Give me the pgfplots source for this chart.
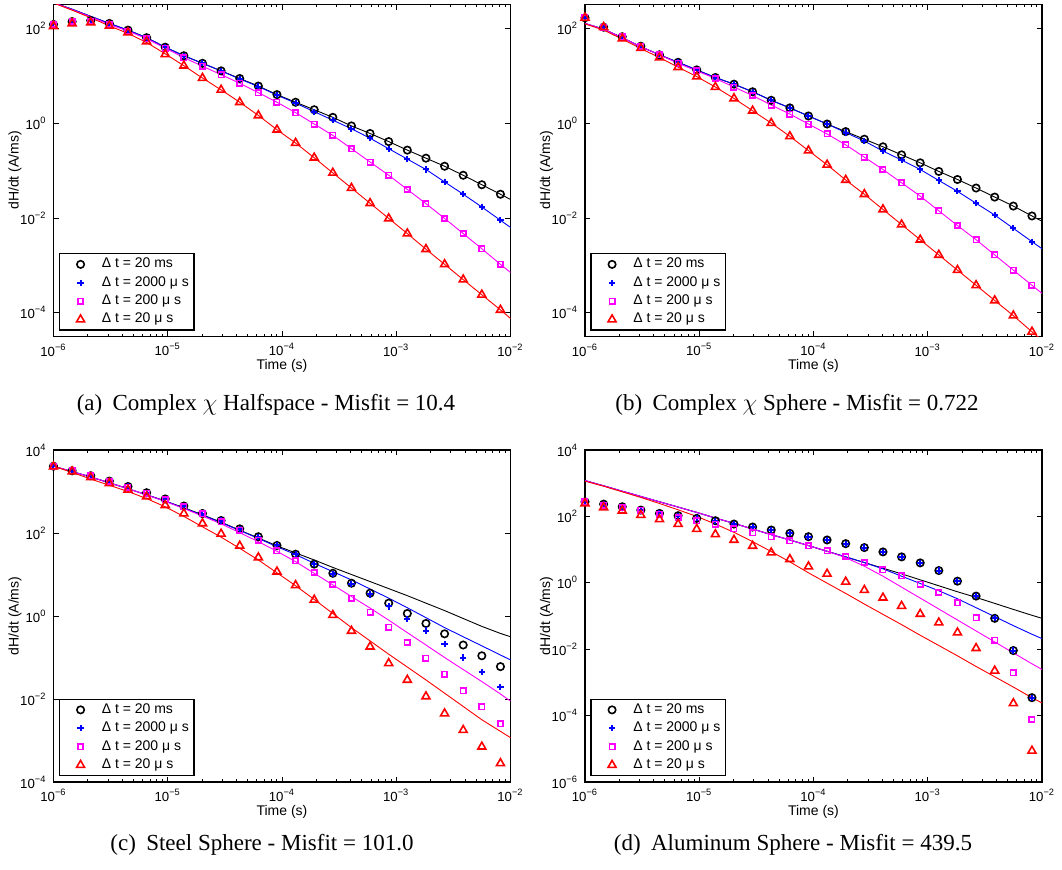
\documentclass[border=0pt]{standalone}
\usepackage{fontspec}
\setmainfont{Liberation Sans}
\newfontfamily\capfont{Liberation Serif}
\usepackage{pgfplots}
\usepackage{pgfplotstable}
\pgfplotsset{compat=1.18}
\definecolor{mmag}{rgb}{1,0,1}
\definecolor{mblue}{rgb}{0,0,1}
\definecolor{mred}{rgb}{1,0,0}

% ---------------- Panel (a) ----------------
\pgfplotstableread{
t k b m r
1e-6 1.20e2 1.20e2 1.20e2 1.10e2
1.456e-6 1.38e2 1.38e2 1.38e2 1.26e2
2.118e-6 1.45e2 1.45e2 1.38e2 1.32e2
3.083e-6 1.26e2 1.26e2 1.20e2 1.12e2
4.487e-6 9.12e1 9.12e1 8.71e1 8.13e1
6.531e-6 6.31e1 6.31e1 6.03e1 5.25e1
9.506e-6 3.98e1 3.98e1 3.80e1 2.82e1
1.384e-5 2.63e1 2.63e1 2.40e1 1.62e1
2.014e-5 1.82e1 1.82e1 1.58e1 8.91
2.931e-5 1.26e1 1.26e1 1.05e1 5.01
4.266e-5 8.71 8.51 6.92 2.75
6.209e-5 6.03 5.89 4.37 1.45
9.036e-5 3.98 3.89 2.75 7.24e-1
1.315e-4 2.75 2.63 1.66 3.80e-1
1.914e-4 1.91 1.74 9.55e-1 1.86e-1
2.786e-4 1.32 1.15 5.50e-1 8.91e-2
4.055e-4 8.71e-1 7.59e-1 2.88e-1 4.27e-2
5.902e-4 6.03e-1 4.79e-1 1.51e-1 2.04e-2
8.590e-4 4.07e-1 2.88e-1 7.94e-2 9.77e-3
1.250e-3 2.69e-1 1.74e-1 3.98e-2 4.68e-3
1.820e-3 1.82e-1 1.05e-1 2.00e-2 2.19e-3
2.649e-3 1.23e-1 5.75e-2 9.77e-3 1.05e-3
3.855e-3 7.94e-2 3.16e-2 4.68e-3 5.01e-4
5.610e-3 5.01e-2 1.70e-2 2.24e-3 2.40e-4
8.166e-3 3.16e-2 8.91e-3 1.05e-3 1.15e-4
}\markA
\pgfplotstableread{
t k b m r
1e-6 3.47e2 3.47e2 3.47e2 3.39e2
1.456e-6 2.51e2 2.51e2 2.45e2 2.40e2
2.118e-6 1.78e2 1.78e2 1.74e2 1.66e2
3.083e-6 1.26e2 1.26e2 1.20e2 1.12e2
4.487e-6 9.12e1 9.12e1 8.71e1 7.76e1
6.531e-6 6.31e1 6.31e1 6.03e1 5.01e1
9.506e-6 3.98e1 3.98e1 3.80e1 2.88e1
1.384e-5 2.63e1 2.63e1 2.40e1 1.62e1
2.014e-5 1.82e1 1.82e1 1.58e1 8.91
2.931e-5 1.26e1 1.26e1 1.05e1 5.01
4.266e-5 8.71 8.51 6.92 2.75
6.209e-5 6.03 5.89 4.37 1.45
9.036e-5 3.98 3.89 2.75 7.24e-1
1.315e-4 2.75 2.63 1.66 3.80e-1
1.914e-4 1.91 1.74 9.55e-1 1.86e-1
2.786e-4 1.32 1.15 5.50e-1 8.91e-2
4.055e-4 8.71e-1 7.59e-1 2.88e-1 4.27e-2
5.902e-4 6.03e-1 4.79e-1 1.51e-1 2.04e-2
8.590e-4 4.07e-1 2.88e-1 7.94e-2 9.77e-3
1.250e-3 2.69e-1 1.74e-1 3.98e-2 4.68e-3
1.820e-3 1.82e-1 1.05e-1 2.00e-2 2.19e-3
2.649e-3 1.23e-1 5.75e-2 9.77e-3 1.05e-3
3.855e-3 7.94e-2 3.16e-2 4.68e-3 5.01e-4
5.610e-3 5.01e-2 1.70e-2 2.24e-3 2.40e-4
8.166e-3 3.16e-2 8.91e-3 1.05e-3 1.15e-4
1e-2 2.45e-2 6.31e-3 7.08e-4 7.59e-5
}\lineA

% ---------------- Panel (b) ----------------
\pgfplotstableread{
t k b m r
1e-6 1.66e2 1.66e2 1.66e2 1.66e2
1.456e-6 1.05e2 1.05e2 1.05e2 1.05e2
2.118e-6 6.61e1 6.61e1 6.61e1 6.03e1
3.083e-6 4.17e1 4.17e1 4.17e1 3.80e1
4.487e-6 2.75e1 2.75e1 2.75e1 2.40e1
6.531e-6 1.91e1 1.91e1 1.82e1 1.51e1
9.506e-6 1.32e1 1.32e1 1.26e1 9.55
1.384e-5 9.12 9.12 8.71 5.75
2.014e-5 6.61 6.61 5.75 3.31
2.931e-5 4.57 4.57 3.80 1.82
4.266e-5 3.02 3.02 2.40 1.00
6.209e-5 2.09 2.09 1.55 5.25e-1
9.036e-5 1.41 1.41 9.55e-1 2.63e-1
1.315e-4 9.55e-1 9.55e-1 5.89e-1 1.32e-1
1.914e-4 6.61e-1 6.31e-1 3.47e-1 6.31e-2
2.786e-4 4.57e-1 4.17e-1 1.91e-1 3.16e-2
4.055e-4 3.16e-1 2.57e-1 1.05e-1 1.51e-2
5.902e-4 2.14e-1 1.66e-1 5.50e-2 7.24e-3
8.590e-4 1.45e-1 1.05e-1 2.88e-2 3.47e-3
1.250e-3 9.55e-2 6.17e-2 1.41e-2 1.66e-3
1.820e-3 6.46e-2 3.63e-2 6.92e-3 7.94e-4
2.649e-3 4.27e-2 2.04e-2 3.47e-3 3.80e-4
3.855e-3 2.75e-2 1.15e-2 1.66e-3 1.82e-4
5.610e-3 1.78e-2 6.03e-3 7.94e-4 8.71e-5
8.166e-3 1.10e-2 3.16e-3 3.80e-4 3.98e-5
}\markB
\pgfplotstableread{
t k b m r
1e-6 1.26e2 1.26e2 1.26e2 1.23e2
1.456e-6 9.55e1 9.55e1 9.55e1 9.12e1
2.118e-6 6.31e1 6.31e1 6.31e1 5.89e1
3.083e-6 4.07e1 4.07e1 4.07e1 3.72e1
4.487e-6 2.75e1 2.75e1 2.75e1 2.40e1
6.531e-6 1.91e1 1.91e1 1.82e1 1.51e1
9.506e-6 1.32e1 1.32e1 1.26e1 9.55
1.384e-5 9.12 9.12 8.71 5.75
2.014e-5 6.61 6.61 5.75 3.31
2.931e-5 4.57 4.57 3.80 1.82
4.266e-5 3.02 3.02 2.40 1.00
6.209e-5 2.09 2.09 1.55 5.25e-1
9.036e-5 1.41 1.41 9.55e-1 2.63e-1
1.315e-4 9.55e-1 9.55e-1 5.89e-1 1.32e-1
1.914e-4 6.61e-1 6.31e-1 3.47e-1 6.31e-2
2.786e-4 4.57e-1 4.17e-1 1.91e-1 3.16e-2
4.055e-4 3.16e-1 2.57e-1 1.05e-1 1.51e-2
5.902e-4 2.14e-1 1.66e-1 5.50e-2 7.24e-3
8.590e-4 1.45e-1 1.05e-1 2.88e-2 3.47e-3
1.250e-3 9.55e-2 6.17e-2 1.41e-2 1.66e-3
1.820e-3 6.46e-2 3.63e-2 6.92e-3 7.94e-4
2.649e-3 4.27e-2 2.04e-2 3.47e-3 3.80e-4
3.855e-3 2.75e-2 1.15e-2 1.66e-3 1.82e-4
5.610e-3 1.78e-2 6.03e-3 7.94e-4 8.71e-5
8.166e-3 1.10e-2 3.16e-3 3.80e-4 3.98e-5
1e-2 8.51e-3 2.24e-3 2.57e-4 2.63e-5
}\lineB

% ---------------- Panel (c) ----------------
\pgfplotstableread{
t k b m r
1e-6 4.07e3 4.07e3 4.07e3 3.98e3
1.456e-6 3.16e3 3.16e3 3.16e3 3.02e3
2.118e-6 2.40e3 2.40e3 2.40e3 2.19e3
3.083e-6 1.78e3 1.78e3 1.74e3 1.58e3
4.487e-6 1.32e3 1.32e3 1.26e3 1.10e3
6.531e-6 9.33e2 9.33e2 9.12e2 7.59e2
9.506e-6 6.61e2 6.61e2 6.31e2 4.68e2
1.384e-5 4.47e2 4.47e2 4.27e2 2.95e2
2.014e-5 2.95e2 2.95e2 2.88e2 1.70e2
2.931e-5 2.00e2 2.00e2 1.86e2 9.55e1
4.266e-5 1.26e2 1.26e2 1.17e2 4.90e1
6.209e-5 8.13e1 8.13e1 6.76e1 2.57e1
9.036e-5 5.01e1 5.01e1 3.72e1 1.17e1
1.315e-4 3.09e1 3.09e1 2.14e1 5.50
1.914e-4 1.78e1 1.78e1 1.12e1 2.45
2.786e-4 1.07e1 1.05e1 5.75 1.05
4.055e-4 6.17 5.89 2.69 4.37e-1
5.902e-4 3.55 3.31 1.23 1.82e-1
8.590e-4 2.04 1.70 5.37e-1 7.24e-2
1.250e-3 1.15 8.51e-1 2.29e-1 2.88e-2
1.820e-3 6.61e-1 4.47e-1 9.55e-2 1.15e-2
2.649e-3 3.72e-1 2.14e-1 3.98e-2 4.47e-3
3.855e-3 2.00e-1 1.00e-1 1.58e-2 1.78e-3
5.610e-3 1.10e-1 4.47e-2 6.46e-3 7.08e-4
8.166e-3 6.03e-2 1.95e-2 2.51e-3 2.82e-4
}\markC
\pgfplotstableread{
t k b m r
1e-6 4.07e3 4.07e3 4.07e3 4.07e3
1.456e-6 3.02e3 3.02e3 3.02e3 2.88e3
2.118e-6 2.24e3 2.24e3 2.24e3 2.00e3
3.083e-6 1.62e3 1.62e3 1.62e3 1.41e3
4.487e-6 1.17e3 1.17e3 1.17e3 1.00e3
6.531e-6 8.32e2 8.32e2 8.32e2 6.76e2
9.506e-6 5.89e2 5.89e2 5.75e2 4.27e2
1.384e-5 4.07e2 3.98e2 3.89e2 2.51e2
2.014e-5 2.75e2 2.69e2 2.57e2 1.41e2
2.931e-5 1.82e2 1.78e2 1.66e2 7.94e1
4.266e-5 1.17e2 1.15e2 1.02e2 4.27e1
6.209e-5 7.59e1 7.41e1 6.17e1 2.24e1
9.036e-5 4.90e1 4.68e1 3.63e1 1.10e1
1.315e-4 3.31e1 3.02e1 2.04e1 5.37
1.914e-4 2.24e1 1.86e1 1.07e1 2.51
2.786e-4 1.48e1 1.17e1 5.62 1.15
4.055e-4 1.00e1 7.41 2.95 5.25e-1
5.902e-4 6.76 4.47 1.55 2.51e-1
8.590e-4 4.57 2.69 7.94e-1 1.20e-1
1.250e-3 3.09 1.58 3.98e-1 5.89e-2
1.820e-3 2.04 9.12e-1 2.00e-1 2.88e-2
2.649e-3 1.35 5.25e-1 1.00e-1 1.38e-2
3.855e-3 8.71e-1 3.16e-1 5.13e-2 6.61e-3
5.610e-3 5.62e-1 1.91e-1 2.63e-2 3.16e-3
8.166e-3 3.80e-1 1.15e-1 1.32e-2 1.66e-3
1e-2 3.16e-1 8.71e-2 8.91e-3 1.17e-3
}\lineC

% ---------------- Panel (d) ----------------
\pgfplotstableread{
t k b m r
1e-6 2.75e2 2.75e2 2.75e2 2.45e2
1.456e-6 2.34e2 2.34e2 2.19e2 1.86e2
2.118e-6 1.95e2 1.95e2 1.82e2 1.48e2
3.083e-6 1.55e2 1.55e2 1.55e2 1.10e2
4.487e-6 1.23e2 1.23e2 1.17e2 8.13e1
6.531e-6 1.05e2 1.05e2 9.33e1 5.89e1
9.506e-6 8.71e1 8.71e1 7.41e1 4.17e1
1.384e-5 7.41e1 7.41e1 5.75e1 2.88e1
2.014e-5 5.89e1 5.89e1 4.27e1 1.95e1
2.931e-5 4.79e1 4.79e1 3.24e1 1.29e1
4.266e-5 3.89e1 3.89e1 2.45e1 8.13
6.209e-5 3.09e1 3.09e1 1.82e1 5.13
9.036e-5 2.45e1 2.45e1 1.29e1 3.09
1.315e-4 1.95e1 1.95e1 9.12 1.86
1.914e-4 1.51e1 1.51e1 6.17 1.07
2.786e-4 1.15e1 1.15e1 4.07 6.03e-1
4.055e-4 8.51 8.51 2.45 3.55e-1
5.902e-4 6.03 6.03 1.62 2.00e-1
8.590e-4 3.98 3.98 9.12e-1 1.15e-1
1.250e-3 2.34 2.34 5.13e-1 6.31e-2
1.820e-3 1.12 1.12 2.51e-1 3.16e-2
2.649e-3 3.98e-1 3.98e-1 8.71e-2 1.07e-2
3.855e-3 8.51e-2 8.51e-2 1.86e-2 2.24e-3
5.610e-3 9.12e-3 9.12e-3 1.95e-3 2.34e-4
8.166e-3 3.47e-4 3.47e-4 7.59e-5 8.71e-6
}\markD
\pgfplotstableread{
t k b m r
1e-6 1.20e3 1.20e3 1.20e3 1.15e3
1.456e-6 8.32e2 8.32e2 8.32e2 8.13e2
2.118e-6 5.75e2 5.75e2 5.75e2 5.50e2
3.083e-6 3.98e2 3.98e2 3.98e2 3.72e2
4.487e-6 2.75e2 2.75e2 2.75e2 2.45e2
6.531e-6 1.91e2 1.91e2 1.91e2 1.58e2
9.506e-6 1.32e2 1.32e2 1.32e2 1.00e2
1.384e-5 8.91e1 8.91e1 8.91e1 5.89e1
2.014e-5 6.17e1 6.17e1 6.17e1 3.31e1
2.931e-5 4.17e1 4.17e1 4.17e1 1.74e1
4.266e-5 2.82e1 2.82e1 2.82e1 8.71
6.209e-5 1.95e1 1.95e1 1.95e1 4.27
9.036e-5 1.32e1 1.32e1 1.32e1 2.00
1.315e-4 8.91 8.91 8.91 9.77e-1
1.914e-4 6.03 6.03 5.75 4.79e-1
2.786e-4 4.07 4.07 3.16 2.29e-1
4.055e-4 2.75 2.63 1.58 1.12e-1
5.902e-4 1.86 1.58 7.41e-1 5.50e-2
8.590e-4 1.23 9.55e-1 3.47e-1 2.63e-2
1.250e-3 8.13e-1 5.75e-1 1.62e-1 1.29e-2
1.820e-3 5.37e-1 3.31e-1 7.59e-2 6.31e-3
2.649e-3 3.63e-1 1.78e-1 3.55e-2 3.02e-3
3.855e-3 2.40e-1 9.55e-2 1.66e-2 1.48e-3
5.610e-3 1.58e-1 5.13e-2 7.76e-3 7.24e-4
8.166e-3 1.05e-1 2.82e-2 3.63e-3 3.47e-4
1e-2 8.51e-2 2.09e-2 2.45e-3 2.40e-4
}\lineD

\newcommand{\tl}[1]{10\textsuperscript{#1}}

\pgfplotsset{
  panel/.style={
    scale only axis, width=228.5pt, height=166pt, anchor=south west,
    xmin=1e-6, xmax=1e-2,
    xtick={1e-6,1e-5,1e-4,1e-3,1e-2},
    xticklabels={\tl{−6},\tl{−5},\tl{−4},\tl{−3},\tl{−2}},
    minor xtick={2e-6,3e-6,4e-6,5e-6,6e-6,7e-6,8e-6,9e-6,
                 2e-5,3e-5,4e-5,5e-5,6e-5,7e-5,8e-5,9e-5,
                 2e-4,3e-4,4e-4,5e-4,6e-4,7e-4,8e-4,9e-4,
                 2e-3,3e-3,4e-3,5e-3,6e-3,7e-3,8e-3,9e-3},
    yminorticks=false,
    tick align=inside, tick pos=both,
    major tick length=2.6pt, minor tick length=1.5pt,
    every tick/.style={black, line width=0.4pt},
    axis line style={line width=0.55pt},
    ticklabel style={font=\fontsize{6.6}{7}\selectfont},
    xlabel={Time (s)}, ylabel={dH/dt (A/ms)},
    every axis x label/.style={at={(axis description cs:0.5,-0.0887)}, anchor=center, font=\fontsize{7}{8}\selectfont},
    every axis y label/.style={at={(axis description cs:-0.0842,0.5)}, anchor=center, rotate=90, font=\fontsize{7}{8}\selectfont},
    legend cell align=left,
    legend image code/.code={%
      \path (0pt,-2pt) (17.5pt,2pt);
      \draw[#1] plot coordinates {(8pt,0pt)};},
    legend style={at={(0.012,0.0175)}, anchor=south west, draw=black, line width=0.6pt,
      font=\fontsize{7}{8}\selectfont, inner xsep=2pt, inner ysep=1.5pt, row sep=1.6pt,
      nodes={inner sep=0.6pt}},
  },
  mk/.style={only marks, mark=o, mark size=1.85pt, black, line width=0.8pt},
  mb/.style={only marks, mark=+, mark size=1.55pt, mblue, line width=1pt},
  mm/.style={only marks, mark=square, mark size=1.35pt, mmag, line width=0.8pt},
  mr/.style={only marks, mark=triangle, mark size=2.3pt, mred, line width=0.8pt},
  ln/.style={no marks, line width=0.45pt, forget plot},
}

\begin{document}
\begin{tikzpicture}
\useasboundingbox (0,0) rectangle (531pt,434.5pt);

% (a)
\begin{loglogaxis}[panel, at={(26.75pt,266.25pt)}, ymin=3.1623e-5, ymax=316.23,
  ytick={1e-4,1e-2,1,1e2}, yticklabels={\tl{−4},\tl{−2},\tl{0},\tl{2}}]
\addplot[mk] table[x=t,y=k]{\markA};
\addplot[mb] table[x=t,y=b]{\markA};
\addplot[mm] table[x=t,y=m]{\markA};
\addplot[mr] table[x=t,y=r]{\markA};
\addplot[ln, black] table[x=t,y=k]{\lineA};
\addplot[ln, mblue] table[x=t,y=b]{\lineA};
\addplot[ln, mmag] table[x=t,y=m]{\lineA};
\addplot[ln, mred] table[x=t,y=r]{\lineA};
\legend{Δ t = 20 ms, Δ t = 2000 μ s, Δ t = 200 μ s, Δ t = 20 μ s}
\end{loglogaxis}

% (b)
\begin{loglogaxis}[panel, at={(292.5pt,266.25pt)}, ymin=3.1623e-5, ymax=316.23,
  ytick={1e-4,1e-2,1,1e2}, yticklabels={\tl{−4},\tl{−2},\tl{0},\tl{2}}]
\addplot[mk] table[x=t,y=k]{\markB};
\addplot[mb] table[x=t,y=b]{\markB};
\addplot[mm] table[x=t,y=m]{\markB};
\addplot[mr] table[x=t,y=r]{\markB};
\addplot[ln, black] table[x=t,y=k]{\lineB};
\addplot[ln, mblue] table[x=t,y=b]{\lineB};
\addplot[ln, mmag] table[x=t,y=m]{\lineB};
\addplot[ln, mred] table[x=t,y=r]{\lineB};
\legend{Δ t = 20 ms, Δ t = 2000 μ s, Δ t = 200 μ s, Δ t = 20 μ s}
\end{loglogaxis}

% (c)
\begin{loglogaxis}[panel, at={(26.75pt,43.5pt)}, ymin=1e-4, ymax=1e4,
  ytick={1e-4,1e-2,1,1e2,1e4}, yticklabels={\tl{−4},\tl{−2},\tl{0},\tl{2},\tl{4}}]
\addplot[mk] table[x=t,y=k]{\markC};
\addplot[mb] table[x=t,y=b]{\markC};
\addplot[mm] table[x=t,y=m]{\markC};
\addplot[mr] table[x=t,y=r]{\markC};
\addplot[ln, black] table[x=t,y=k]{\lineC};
\addplot[ln, mblue] table[x=t,y=b]{\lineC};
\addplot[ln, mmag] table[x=t,y=m]{\lineC};
\addplot[ln, mred] table[x=t,y=r]{\lineC};
\legend{Δ t = 20 ms, Δ t = 2000 μ s, Δ t = 200 μ s, Δ t = 20 μ s}
\end{loglogaxis}

% (d)
\begin{loglogaxis}[panel, at={(292.5pt,43.5pt)}, ymin=1e-6, ymax=1e4,
  ytick={1e-6,1e-4,1e-2,1,1e2,1e4}, yticklabels={\tl{−6},\tl{−4},\tl{−2},\tl{0},\tl{2},\tl{4}}]
\addplot[mk] table[x=t,y=k]{\markD};
\addplot[mb] table[x=t,y=b]{\markD};
\addplot[mm] table[x=t,y=m]{\markD};
\addplot[mr] table[x=t,y=r]{\markD};
\addplot[ln, black] table[x=t,y=k]{\lineD};
\addplot[ln, mblue] table[x=t,y=b]{\lineD};
\addplot[ln, mmag] table[x=t,y=m]{\lineD};
\addplot[ln, mred] table[x=t,y=r]{\lineD};
\legend{Δ t = 20 ms, Δ t = 2000 μ s, Δ t = 200 μ s, Δ t = 20 μ s}
\end{loglogaxis}

\node[font=\capfont\fontsize{11.5}{13}\selectfont] at (133pt,232pt) {(a)\hspace{0.45em}Complex $\chi$ Halfspace - Misfit = 10.4};
\node[font=\capfont\fontsize{11.5}{13}\selectfont] at (398.5pt,232pt) {(b)\hspace{0.45em}Complex $\chi$ Sphere - Misfit = 0.722};
\node[font=\capfont\fontsize{11.5}{13}\selectfont] at (131pt,12pt) {(c)\hspace{0.45em}Steel Sphere - Misfit = 101.0};
\node[font=\capfont\fontsize{11.5}{13}\selectfont] at (396.5pt,12pt) {(d)\hspace{0.45em}Aluminum Sphere - Misfit = 439.5};
\end{tikzpicture}
\end{document}
